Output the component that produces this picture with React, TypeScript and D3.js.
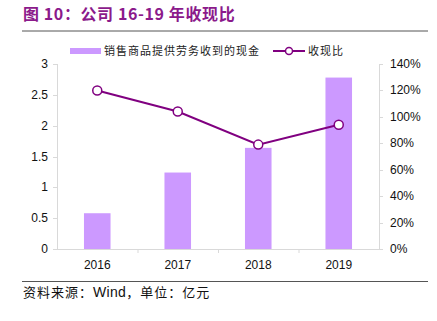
import React from "react";
import * as d3 from "d3";

const years = ["2016", "2017", "2018", "2019"];
const cashReceived = [0.58, 1.24, 1.64, 2.78];
const cashRatio = [1.2, 1.04, 0.79, 0.94];
const leftTicks = [0, 0.5, 1, 1.5, 2, 2.5, 3];
const rightTicks = [0, 0.2, 0.4, 0.6, 0.8, 1.0, 1.2, 1.4];

const W = 437, H = 321;
const L = 57, R = 379, T = 64, B = 249;
const font = "'Liberation Sans', Arial, 'Noto Sans CJK SC', sans-serif";
const cjk = "'Noto Sans CJK SC', sans-serif";
const purple = "#800080";
const barColor = "#CC99FF";

export default function App() {
  const x = d3.scaleBand().domain(years).range([L, R]).paddingInner(0.67).paddingOuter(0.335);
  const band = d3.scaleBand().domain(years).range([L, R]);
  const yL = d3.scaleLinear().domain([0, 3]).range([B, T]);
  const yR = d3.scaleLinear().domain([0, 1.4]).range([B, T]);
  const line = d3.line<number>().x((_, i) => band(years[i])! + band.bandwidth() / 2).y((d) => yR(d));
  return (
    <svg width={W} height={H} style={{ position: "absolute", left: 0, top: 0 }}>
      <rect width={W} height={H} fill="#fff" />
      <text x={23} y={20} fill="#8B1A8B" fontSize={16} fontWeight="bold" fontFamily={cjk} letterSpacing={0.6}>
        图 10：公司 16-19 年收现比
      </text>
      <line x1={22} x2={428} y1={31} y2={31} stroke="#555" strokeWidth={1} />
      {/* legend */}
      <rect x={70} y={48} width={31} height={6} fill={barColor} />
      <text x={104} y={55} fontSize={11} fontFamily={cjk} fill="#222" letterSpacing={1}>销售商品提供劳务收到的现金</text>
      <line x1={273} x2={305} y1={51} y2={51} stroke={purple} strokeWidth={2} />
      <circle cx={289} cy={51} r={3.5} fill="#fff" stroke={purple} strokeWidth={1.5} />
      <text x={308} y={55} fontSize={11} fontFamily={cjk} fill="#222" letterSpacing={1}>收现比</text>
      {/* axes */}
      <line x1={L + 0.5} x2={L + 0.5} y1={T} y2={B} stroke="#d9d9d9" />
      <line x1={R + 0.5} x2={R + 0.5} y1={T} y2={B} stroke="#d9d9d9" />
      <line x1={L} x2={R} y1={B + 0.5} y2={B + 0.5} stroke="#d9d9d9" />
      {leftTicks.map((t) => (
        <g key={"l" + t}>
          <line x1={L - 4} x2={L} y1={Math.round(yL(t)) + 0.5} y2={Math.round(yL(t)) + 0.5} stroke="#d9d9d9" />
          <text x={48} y={yL(t) + 4} textAnchor="end" fontSize={12} fontFamily={font} fill="#111">{t}</text>
        </g>
      ))}
      {rightTicks.map((t) => (
        <g key={"r" + t}>
          <line x1={R} x2={R + 4} y1={Math.round(yR(t)) + 0.5} y2={Math.round(yR(t)) + 0.5} stroke="#d9d9d9" />
          <text x={390} y={yR(t) + 4} fontSize={12} fontFamily={font} fill="#111">{Math.round(t * 100)}%</text>
        </g>
      ))}
      {years.map((y, i) => (
        <g key={y}>
          {i > 0 && <line x1={band(y)! + 0.5} x2={band(y)! + 0.5} y1={B} y2={B + 4} stroke="#d9d9d9" />}
          <text x={band(y)! + band.bandwidth() / 2} y={269} textAnchor="middle" fontSize={12} fontFamily={font} fill="#111">{y}</text>
        </g>
      ))}
      {cashReceived.map((v, i) => (
        <rect key={i} x={x(years[i])} y={yL(v)} width={x.bandwidth()} height={B - yL(v)} fill={barColor} />
      ))}
      <path d={line(cashRatio)!} fill="none" stroke={purple} strokeWidth={2} />
      {cashRatio.map((v, i) => (
        <circle key={i} cx={band(years[i])! + band.bandwidth() / 2} cy={yR(v)} r={4.5} fill="#fff" stroke={purple} strokeWidth={1.5} />
      ))}
      <line x1={22} x2={428} y1={281.5} y2={281.5} stroke="#555" strokeWidth={1} />
      <text x={23} y={297} fontSize={13} fontFamily={cjk} fill="#111" letterSpacing={1}>资料来源：<tspan fontFamily={font} fontSize={14} letterSpacing={0.3}>Wind</tspan>，单位：亿元</text>
    </svg>
  );
}
